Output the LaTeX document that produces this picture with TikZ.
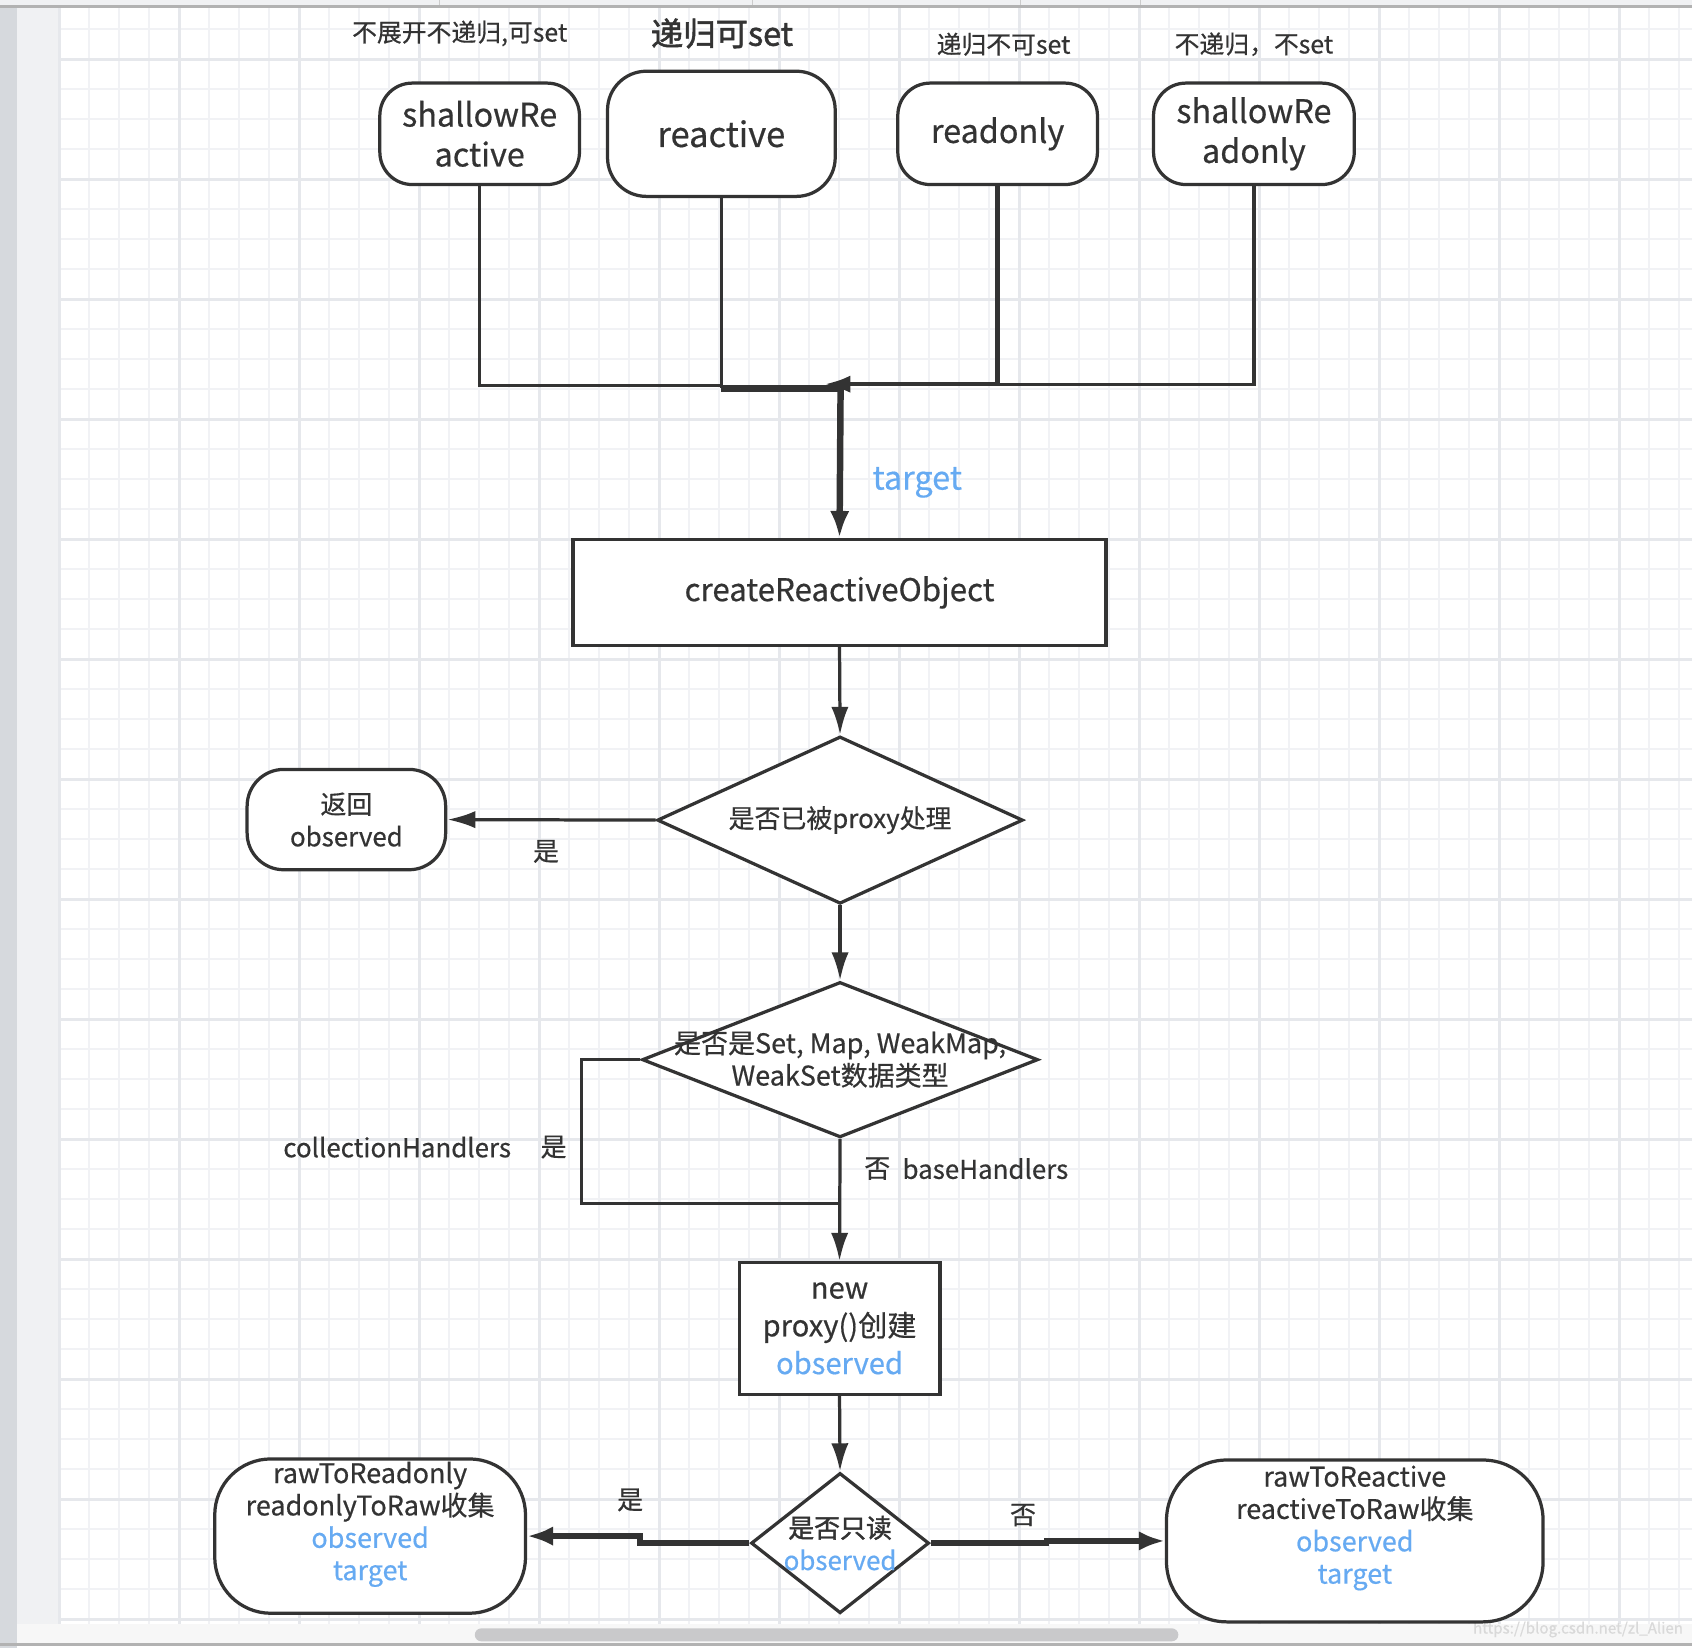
\documentclass[tikz,border=0pt]{standalone}
\usepackage{fontspec}
\setmainfont{Noto Sans CJK SC}[FakeBold=0.5]
\newfontfamily\heavyfont[FakeBold=1.6]{Noto Sans CJK SC}
\usetikzlibrary{shapes.geometric,arrows.meta,positioning}
\definecolor{ink}{HTML}{333333}
\definecolor{hint}{HTML}{66AAF2}
\definecolor{gridminor}{HTML}{F1F2F5}
\definecolor{gridmajor}{HTML}{E6E8EC}
\definecolor{sidedark}{HTML}{D6D9DD}
\definecolor{sidelight}{HTML}{F0F1F3}
\definecolor{scrollbar}{HTML}{C9C9CB}
\tikzset{
  box/.style={draw=ink, line width=1.5pt, fill=white, text=ink, align=center, inner sep=0pt},
  pill/.style={box, rounded corners=15pt},
  decision/.style={draw=ink, line width=1.5pt, fill=white, diamond, inner sep=0pt},
  note/.style={text=ink, inner sep=0pt, align=center},
  conn/.style={draw=ink, line width=1.5pt},
  flow/.style={conn, -{Latex[length=13pt,width=8pt]}},
  heavyflow/.style={conn, line width=2.5pt, -{Latex[length=12pt,width=9pt]}},
  fsmall/.style={font=\fontsize{11.5}{14}\selectfont},
  fmid/.style={font=\fontsize{12}{15}\selectfont},
  fbox/.style={font=\fontsize{15}{18.5}\selectfont},
}
\begin{document}
\begin{tikzpicture}[x=0.5pt, y=-0.5pt]
    \useasboundingbox (0,0) rectangle (1568,1527);

    % canvas
    \fill[white] (0,0) rectangle (1568,1527);
    \fill[sidelight] (0,0) rectangle (1568,6);
    \foreach \sx in {407,697,946,1057}
        \draw[gray!40, line width=0.5pt] (\sx,0) -- (\sx,6);
    \fill[sidedark] (0,6) rectangle (16,1527);
    \fill[sidelight] (16,6) rectangle (55,1505);
    \foreach \k in {0,...,54} {
        \pgfmathsetmacro\gx{55+27.8*\k}
        \draw[gridminor, line width=1pt] (\gx,6) -- (\gx,1505);
    }
    \foreach \k in {0,...,53} {
        \pgfmathsetmacro\gy{27.2+27.8*\k}
        \draw[gridminor, line width=1pt] (55,\gy) -- (1568,\gy);
    }
    \foreach \k in {0,...,13} {
        \pgfmathsetmacro\gx{55+111.2*\k}
        \pgfmathsetmacro\gy{55+111.2*\k}
        \draw[gridmajor, line width=1.3pt] (\gx,6) -- (\gx,1505);
        \draw[gridmajor, line width=1.3pt] (55,\gy) -- (1568,\gy);
    }
    \draw[gray!60, line width=1pt] (0,6) -- (1568,6);
    \fill[gray!6] (16,1505) rectangle (1568,1524);
    \fill[scrollbar, rounded corners=3pt] (440,1509) rectangle (1092,1521);
    \draw[gray!60, line width=1pt] (0,1524) -- (1568,1524);
    \node[text=gray!30, inner sep=0pt, anchor=east, font=\fontsize{7}{8}\selectfont] (wm) at (1560,1510) {https://blog.csdn.net/zl\_Alien};

    % entry points
    \node[note, fsmall] (lsra) at (426,31) {不展开不递归,可set};
    \node[note, font=\heavyfont\fontsize{15}{18}\selectfont] (lrea) at (669,31) {递归可set};
    \node[note, fsmall] (lrdo) at (930,41) {递归不可set};
    \node[note, fsmall] (lsro) at (1162,41) {不递归，不set};

    \node[pill, fbox, minimum width=92.5pt, minimum height=47pt] (sra) at (444.5,124) {shallowRe\\active};
    \node[pill, font=\fontsize{16}{19}\selectfont, rounded corners=18pt, minimum width=105.5pt, minimum height=58pt] (rea) at (668.5,124) {reactive};
    \node[pill, fbox, minimum width=92.5pt, minimum height=47pt] (rdo) at (924.5,124) {readonly};
    \node[pill, fbox, minimum width=93pt, minimum height=47pt] (sro) at (1162,124) {shallowRe\\adonly};

    % merge into target
    \coordinate (jn) at (779,357);
    \coordinate (jr) at (779,360);
    \coordinate (jtip) at (764,356);
    \draw[conn] (sra.south) |- (rea.south |- jn);
    \draw[conn] (rea.south) -- (rea.south |- jr);
    \draw[conn, line width=3pt] (rea.south |- jr) -- (jr);
    \draw[conn] (sro.south) |- (rdo.south |- jtip);
    \draw[conn, line width=2pt, -{Latex[length=12pt,width=8pt]}] (rdo.south) |- (jtip);

    \node[box, font=\fontsize{14.5}{17}\selectfont, minimum width=247pt, minimum height=49pt] (cro) at (778,549) {createReactiveObject};
    \draw[conn, line width=3pt, -{Latex[length=12.5pt,width=9pt]}] (jn) -- (cro.north);
    \node[note, text=hint, font=\fontsize{15}{18}\selectfont] (ltarget) at (850,447) {target};

    % already proxied?
    \node[decision, minimum width=169.5pt, minimum height=77.5pt,
          label={[note, fmid]center:是否已被proxy处理}] (dpx) at (778.5,760) {};
    \draw[flow] (cro.south) -- (dpx.north);
    \node[pill, fmid, rounded corners=17pt, minimum width=92pt, minimum height=46.5pt] (ret) at (321,759.5) {返回\\observed};
    \draw[flow] (dpx.west) -- (ret.east);
    \node[note, fmid] (lyes1) at (506,789) {是};

    % collection type?
    \node[decision, minimum width=183.5pt, minimum height=72pt,
          label={[note, font=\fontsize{12.5}{15}\selectfont]center:是否是Set, Map, WeakMap,\\WeakSet数据类型}] (dset) at (778.5,982) {};
    \draw[flow] (dpx.south) -- (dset.north);
    \node[box, font=\fontsize{13.5}{17.5}\selectfont, minimum width=93pt, minimum height=61pt] (np) at (778,1231) {new\\proxy()创建\\\textcolor{hint}{observed}};
    \coordinate (cl) at (539,1115);
    \draw[conn] (dset.west) -| (cl) -- (cl -| dset.south);
    \draw[flow] (dset.south) -- (np.north);
    \node[note, fmid, anchor=east] (lcoll) at (474,1063) {collectionHandlers};
    \node[note, fmid] (lyes2) at (513,1063) {是};
    \node[note, fmid] (lno2) at (813,1083) {否};
    \node[note, fmid, anchor=west] (lbase) at (836,1083) {baseHandlers};

    % readonly?
    \node[decision, minimum width=82.5pt, minimum height=65pt,
          label={[note, fmid]center:{\heavyfont 是否只读}\\\textcolor{hint}{observed}}] (dro) at (778.5,1430) {};
    \draw[flow] (np.south) -- (dro.north);

    \node[pill, rounded corners=26pt, minimum width=144pt, minimum height=71.5pt,
          label={[note, font=\fontsize{12.5}{15}\selectfont, yshift=5.5pt]center:rawToReadonly\\readonlyToRaw收集\\\textcolor{hint}{observed}\\\textcolor{hint}{target}}] (lb) at (343,1423.5) {};
    \node[pill, rounded corners=28pt, minimum width=174.5pt, minimum height=75pt,
          label={[note, font=\fontsize{12.5}{15}\selectfont, yshift=6pt]center:rawToReactive\\reactiveToRaw收集\\\textcolor{hint}{observed}\\\textcolor{hint}{target}}] (rb) at (1255.5,1428) {};

    \coordinate (lj) at (593,1430);
    \coordinate (rj) at (970,1430);
    \draw[heavyflow] (dro.west) -- (lj) -- (lj |- lb.east) -- (lb.east);
    \draw[heavyflow] (dro.east) -- (rj) -- (rj |- rb.west) -- (rb.west);
    \node[note, fmid] (lyes3) at (584,1390) {是};
    \node[note, fmid] (lno3) at (948,1404) {否};
\end{tikzpicture}
\end{document}
